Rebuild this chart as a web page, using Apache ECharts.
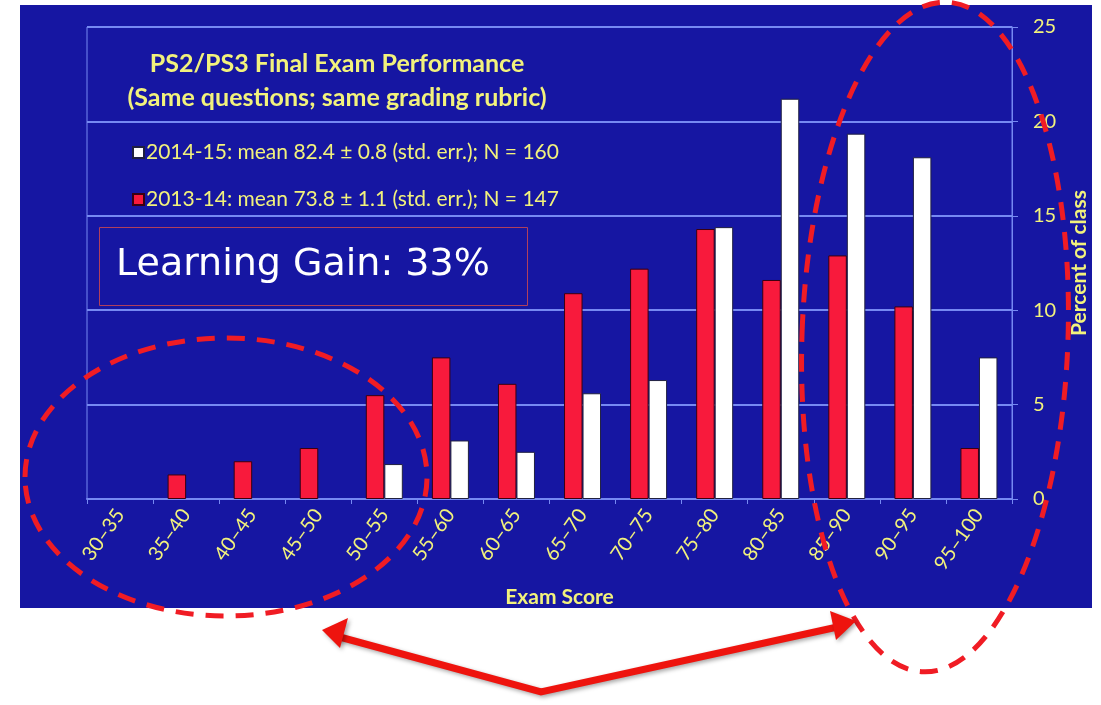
<!DOCTYPE html>
<html>
<head>
<meta charset="utf-8">
<title>PS2/PS3 Final Exam Performance</title>
<script src="https://cdn.jsdelivr.net/npm/echarts@6/dist/echarts.min.js"></script>
<style>
  html, body { margin: 0; padding: 0; background: #ffffff; }
  #chart { width: 1101px; height: 705px; }
</style>
</head>
<body>
<div id="chart"></div>
<script>
// Score bins (percent of class in each bin)
const categories = ['30–35', '35–40', '40–45', '45–50', '50–55', '55–60', '60–65',
                    '65–70', '70–75', '75–80', '80–85', '85–90', '90–95', '95–100'];
const year2013 = [0, 1.3, 2.0, 2.7, 5.5, 7.5, 6.1, 10.9, 12.2, 14.3, 11.6, 12.9, 10.2, 2.7];
const year2014 = [0, 0, 0, 0, 1.85, 3.1, 2.5, 5.6, 6.3, 14.4, 21.2, 19.35, 18.1, 7.5];
const yTicks = [0, 5, 10, 15, 20, 25];

const seriesNames = ['2013-14', '2014-15'];
const legendText = {
  '2014-15': '2014-15: mean 82.4 ± 0.8 (std. err.); N = 160',
  '2013-14': '2013-14: mean 73.8 ± 1.1 (std. err.); N = 147'
};
const titleLines = ['PS2/PS3 Final Exam Performance', '(Same questions; same grading rubric)'];
const gainText = 'Learning Gain: 33%';

const YELLOW = '#f2f27c';
const GRID = '#7689f2';
const BLUE = '#1616a2';
const RED = '#f81a3c';
const DASH_RED = '#f01c24';
const FONT = 'Lato, "Open Sans", sans-serif';

// empty bins get no bar at all (no outline on the baseline)
const asBars = arr => arr.map(v => (v === 0 ? '-' : v));

const chart = echarts.init(document.getElementById('chart'));

const arrowShadow = { shadowBlur: 4, shadowColor: 'rgba(0,0,0,0.35)', shadowOffsetX: 2, shadowOffsetY: 2 };

chart.setOption({
  backgroundColor: '#ffffff',
  animation: false,
  grid: {
    left: 87, right: 89, top: 27, bottom: 206,
    show: true, borderColor: GRID, borderWidth: 1, backgroundColor: 'transparent'
  },
  legend: {
    data: ['2014-15', '2013-14'],
    orient: 'vertical',
    left: 127, top: 137,
    itemWidth: 11, itemHeight: 11, itemGap: 26,
    icon: 'rect',
    formatter: name => legendText[name],
    textStyle: { color: YELLOW, fontSize: 21, fontFamily: FONT, padding: [0, 0, 0, -3] }
  },
  xAxis: {
    type: 'category',
    data: categories,
    axisLine: { lineStyle: { color: GRID, width: 2 } },
    axisTick: { show: true, length: 5, lineStyle: { color: GRID } },
    axisLabel: { interval: 0, rotate: 55, color: YELLOW, fontSize: 20, fontFamily: FONT, margin: 12 },
    name: 'Exam Score',
    nameLocation: 'middle',
    nameGap: 88,
    nameTextStyle: { color: YELLOW, fontSize: 21, fontWeight: 'bold', fontFamily: FONT, padding: [0, 0, 0, 20] }
  },
  yAxis: {
    type: 'value',
    position: 'right',
    min: 0, max: 25, interval: 5,
    axisLine: { show: true, lineStyle: { color: GRID, width: 1 } },
    axisTick: { show: true, length: 6, lineStyle: { color: GRID } },
    splitLine: { lineStyle: { color: GRID, width: 2 } },
    axisLabel: {
      color: YELLOW, fontSize: 20, fontFamily: FONT, margin: 21,
      formatter: v => (yTicks.indexOf(v) >= 0 ? String(v) : '')
    },
    name: 'Percent of class',
    nameLocation: 'middle',
    nameRotate: 90,
    nameGap: 57,
    nameTextStyle: { color: YELLOW, fontSize: 21, fontWeight: 'bold', fontFamily: FONT }
  },
  series: [
    {
      name: seriesNames[0], type: 'bar', data: asBars(year2013),
      barWidth: 18.5, barGap: '0%',
      itemStyle: { color: RED, borderColor: '#3a0010', borderWidth: 1 }
    },
    {
      name: seriesNames[1], type: 'bar', data: asBars(year2014),
      barWidth: 18.5, barGap: '0%',
      itemStyle: { color: '#ffffff', borderColor: '#202040', borderWidth: 1 }
    }
  ],
  graphic: [
    // slide background
    { type: 'rect', z: -100, silent: true,
      shape: { x: 20, y: 5, width: 1072, height: 603 },
      style: { fill: BLUE } },
    // chart title
    { type: 'text', z: 50, silent: true,
      style: { x: 337, y: 51, text: titleLines[0], fill: YELLOW, textAlign: 'center',
               font: 'bold 25px ' + FONT } },
    { type: 'text', z: 50, silent: true,
      style: { x: 337, y: 85, text: titleLines[1], fill: YELLOW, textAlign: 'center',
               font: 'bold 25px ' + FONT } },
    // learning gain callout
    { type: 'rect', z: 50, silent: true,
      shape: { x: 99.5, y: 227.5, width: 428, height: 78 },
      style: { fill: 'transparent', stroke: '#b0405c', lineWidth: 1 } },
    { type: 'text', z: 50, silent: true,
      style: { x: 116, y: 246, text: gainText, fill: '#ffffff',
               font: '38px "Comic Sans MS", "DejaVu Sans", sans-serif' } },
    // dashed highlight ellipses
    { type: 'ellipse', z: 100, silent: true,
      shape: { cx: 226, cy: 477, rx: 201, ry: 139 },
      style: { fill: 'transparent', stroke: DASH_RED, lineWidth: 5, lineDash: [18, 12] } },
    { type: 'ellipse', z: 100, silent: true,
      originX: 935, originY: 337, rotation: -0.035,
      shape: { cx: 935, cy: 337, rx: 133, ry: 335 },
      style: { fill: 'transparent', stroke: DASH_RED, lineWidth: 5, lineDash: [18, 12] } },
    // arrows pointing at both tails
    { type: 'polyline', z: 100, silent: true,
      shape: { points: [[336, 636], [541, 692], [842, 626]] },
      style: Object.assign({ fill: 'none', stroke: '#ee140e', lineWidth: 7, lineJoin: 'miter' }, arrowShadow) },
    { type: 'polygon', z: 100, silent: true,
      shape: { points: [[322, 630], [348, 618], [340, 648]] },
      style: Object.assign({ fill: '#ee140e' }, arrowShadow) },
    { type: 'polygon', z: 100, silent: true,
      shape: { points: [[856, 621], [830, 611], [836, 640]] },
      style: Object.assign({ fill: '#ee140e' }, arrowShadow) }
  ]
});
</script>
</body>
</html>
